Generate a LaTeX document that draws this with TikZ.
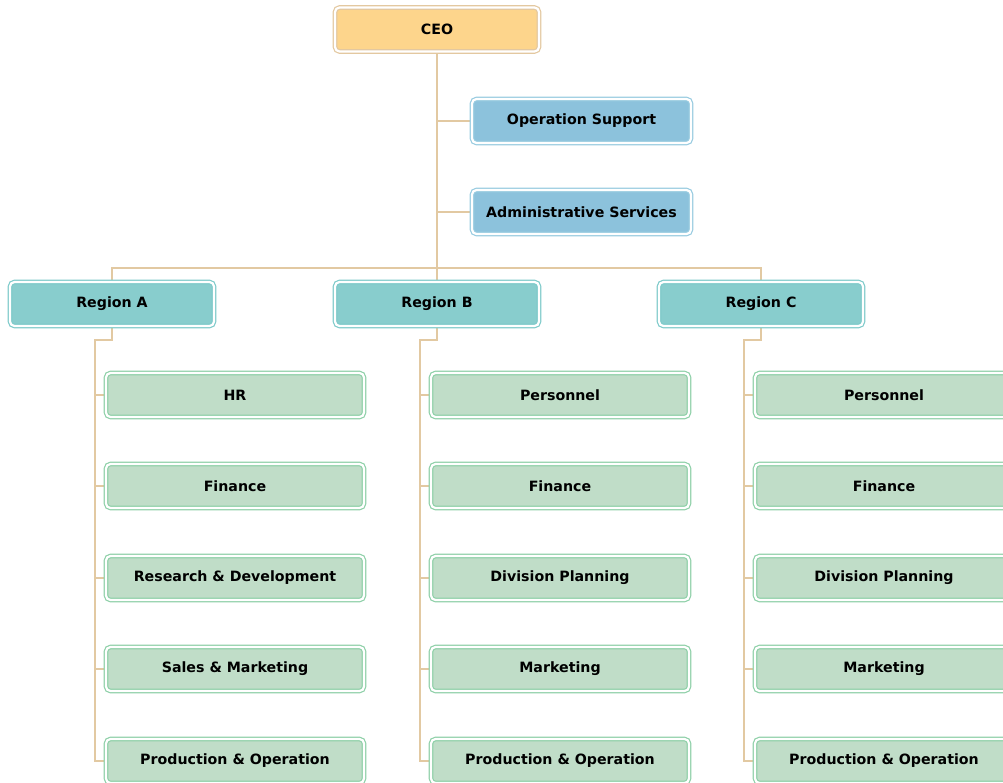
\documentclass[tikz,border=0pt]{standalone}
\usepackage{fontspec}
\setmainfont{DejaVu Sans}
\usetikzlibrary{backgrounds}
\definecolor{linetan}{HTML}{E2C9A2}
\definecolor{ceofill}{HTML}{FDD58C}
\definecolor{ceoedge}{HTML}{E3C8A0}
\definecolor{bluefill}{HTML}{8CC2DC}
\definecolor{blueedge}{HTML}{98CBE0}
\definecolor{tealfill}{HTML}{88CDCD}
\definecolor{tealedge}{HTML}{7ECACA}
\definecolor{leaffill}{HTML}{C0DDC8}
\definecolor{leafedge}{HTML}{8ED0A8}
\tikzset{
  orgbox/.style={rectangle, rounded corners=4.5pt, line width=1.2pt,
    double=white, double distance=2.2pt, inner sep=0pt,
    minimum height=44pt, font=\bfseries\fontsize{14.2}{16}\selectfont},
  ceobox/.style={orgbox, draw=ceoedge, fill=ceofill, minimum width=204pt},
  staffbox/.style={orgbox, draw=blueedge, fill=bluefill, minimum width=219pt},
  regionbox/.style={orgbox, draw=tealedge, fill=tealfill, minimum width=204pt},
  leafbox/.style={orgbox, draw=leafedge, fill=leaffill, minimum width=258pt},
  conn/.style={draw=linetan, line width=1.3pt}
}
\begin{document}
\begin{tikzpicture}[x=1pt,y=-1pt]
\useasboundingbox (0,0) rectangle (1003,782);
\clip (0,0) rectangle (1003,782);

% top of the chart
\node[ceobox] (ceo) at (437,29.5) {CEO};
\node[staffbox] (ops) at (581.5,121) {Operation Support};
\node[staffbox] (adm) at (581.5,212) {Administrative Services};

% regions
\node[regionbox] (ra) at (112,304) {Region A};
\node[regionbox] (rb) at (437,304) {Region B};
\node[regionbox] (rc) at (761,304) {Region C};

% departments of Region A
\node[leafbox] (a1) at (235,395) {HR};
\node[leafbox] (a2) at (235,486) {Finance};
\node[leafbox] (a3) at (235,578) {Research \& Development};
\node[leafbox] (a4) at (235,669) {Sales \& Marketing};
\node[leafbox] (a5) at (235,761) {Production \& Operation};

% departments of Region B
\node[leafbox] (b1) at (560,395) {Personnel};
\node[leafbox] (b2) at (560,486) {Finance};
\node[leafbox] (b3) at (560,578) {Division Planning};
\node[leafbox] (b4) at (560,669) {Marketing};
\node[leafbox] (b5) at (560,761) {Production \& Operation};

% departments of Region C
\node[leafbox] (c1) at (884,395) {Personnel};
\node[leafbox] (c2) at (884,486) {Finance};
\node[leafbox] (c3) at (884,578) {Division Planning};
\node[leafbox] (c4) at (884,669) {Marketing};
\node[leafbox] (c5) at (884,761) {Production \& Operation};

% junction points of the connector tree
\coordinate (bus) at (437,268);
\coordinate (ka) at (95,340);
\coordinate (kb) at (420,340);
\coordinate (kc) at (744,340);

\begin{scope}[on background layer]
  \draw[conn] (ceo) -- (bus);
  \draw[conn] (ceo |- ops) -- (ops);
  \draw[conn] (ceo |- adm) -- (adm);
  \draw[conn] (ra) |- (bus) -| (rc);
  \draw[conn] (bus) -- (rb);
  \foreach \r/\k/\l in {ra/ka/a, rb/kb/b, rc/kc/c}{
    \draw[conn] (\r) -- (\r.south |- \k) -- (\k) -- (\k |- \l5) -- (\l5);
    \foreach \i in {1,2,3,4}{
      \draw[conn] (\k |- \l\i) -- (\l\i);
    }
  }
\end{scope}
\end{tikzpicture}
\end{document}
